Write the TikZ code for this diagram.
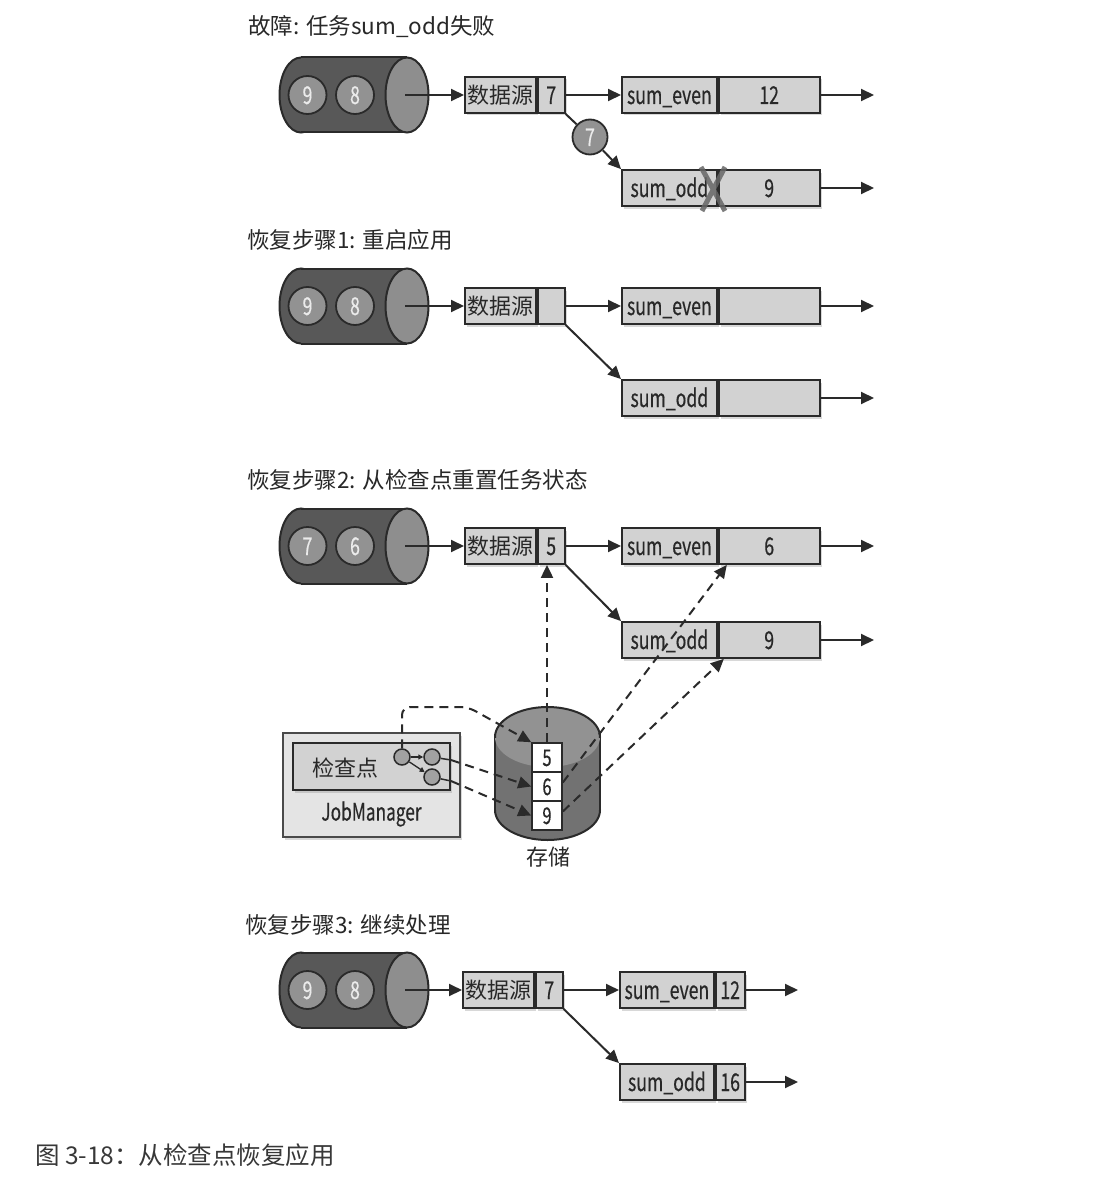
\documentclass[tikz,border=0pt]{standalone}
\usepackage{fontspec}
\setmainfont{Noto Sans CJK SC}
\newfontfamily\cond[FakeStretch=0.72,FakeBold=0.4]{Noto Sans CJK SC}
\usetikzlibrary{arrows.meta,shadows,calc}

\definecolor{ink}{HTML}{2A2A2A}
\definecolor{boxfill}{HTML}{D2D2D2}
\definecolor{cyldark}{HTML}{585858}
\definecolor{cyllight}{HTML}{8E8E8E}
\definecolor{tokfill}{HTML}{929292}
\definecolor{dbbody}{HTML}{727272}
\definecolor{dbtop}{HTML}{929292}
\definecolor{jmfill}{HTML}{E4E4E4}
\definecolor{txt}{HTML}{282828}

\tikzset{
  every node/.style={text=txt},
  shade box/.style={drop shadow={shadow xshift=2pt, shadow yshift=-2.5pt, opacity=0.3}},
  part/.style={draw=ink, fill=boxfill, line width=1.8pt, minimum height=36pt,
    inner sep=0pt, anchor=west, shade box},
  cjk/.style={font=\fontsize{22}{22}\selectfont},
  lat/.style={font=\cond\fontsize{24.5}{24.5}\selectfont, text height=18pt, text depth=0pt},
  title/.style={anchor=west, inner sep=0pt, font=\fontsize{22.5}{23}\selectfont},
  token/.style={circle, draw=ink, fill=tokfill, line width=1.8pt, minimum size=38pt,
    inner sep=0pt, text=white!92!black, lat},
  flow/.style={draw=ink, line width=2pt, -{Triangle[length=13pt,width=12pt]}},
  dflow/.style={draw=ink, line width=2pt, dash pattern=on 9pt off 6pt,
    -{Triangle[length=13pt,width=12pt]}},
  tiny/.style={draw=ink, line width=1.3pt, -{Triangle[length=5pt,width=5pt]}},
  slot/.style={draw=ink, fill=white, line width=1.6pt, minimum width=30pt,
    minimum height=29pt, inner sep=0pt, font=\cond\fontsize{23}{23}\selectfont,
    text height=17pt, text depth=0pt},
  dot/.style={circle, draw=ink, fill=tokfill!85!white, line width=1.5pt,
    minimum size=16pt, inner sep=0pt},
}

% horizontal queue cylinder: name, centre x, centre y, two queued records
\newcommand\drawcyl[5]{%
  \path[draw=ink, fill=cyldark, line width=2pt] (#2-53,#3) ellipse [x radius=21.5, y radius=37.5];
  \fill[cyldark] (#2-53,#3-37.5) rectangle (#2+53,#3+37.5);
  \draw[ink, line width=2pt] (#2-53,#3-37.5) -- (#2+53,#3-37.5) (#2-53,#3+37.5) -- (#2+53,#3+37.5);
  \path[draw=ink, fill=cyllight, line width=2pt] (#2+53,#3) ellipse [x radius=21.5, y radius=37.5];
  \node[token] (#1a) at (#2-46.5,#3) {#4};
  \node[token] (#1b) at (#2+1,#3) {#5};
  \coordinate (#1) at (#2+51,#3);
}

\begin{document}
\begin{tikzpicture}[x=1pt, y=-1pt]
\fill[white] (0,0) rectangle (1110,1188);
\useasboundingbox (0,0) rectangle (1110,1188);

% ---------- failure ----------
\node[title] (t1) at (248,27) {故障: 任务sum\_odd失败};
\drawcyl{q1}{354}{95}{9}{8}
\node[part, minimum width=71pt, cjk] (s1) at (464,95) {数据源};
\node[part, minimum width=27pt, lat] (s1v) at (s1.east) {7};
\node[part, minimum width=95pt, lat] (e1) at (621,95) {sum\_even};
\node[part, minimum width=101pt, lat] (e1v) at (e1.east) {12};
\node[part, minimum width=95pt, lat] (o1) at (621,188) {sum\_odd};
\node[part, minimum width=101pt, lat] (o1v) at (o1.east) {9};
\coordinate (e1out) at (874,95);
\coordinate (o1out) at (874,188);
\node[token, minimum size=35pt] (m1) at (590,137) {7};
\draw[flow] (q1) -- (s1.west);
\draw[flow] (s1v.east) -- (e1.west);
\draw[flow] (e1v.east) -- (e1out);
\draw[flow] (o1v.east) -- (o1out);
\draw[ink, line width=2pt] (s1v.south east) -- (m1);
\draw[flow] (m1) -- (o1.north west);
\draw[gray!80!black, line width=5pt, opacity=0.85] (701,167) -- (725,211) (725,167) -- (702,211);

% ---------- step 1 ----------
\node[title] (t2) at (247,240) {恢复步骤1: 重启应用};
\drawcyl{q2}{354}{306}{9}{8}
\node[part, minimum width=71pt, cjk] (s2) at (464,306) {数据源};
\node[part, minimum width=27pt, lat] (s2v) at (s2.east) {};
\node[part, minimum width=95pt, lat] (e2) at (621,306) {sum\_even};
\node[part, minimum width=101pt, lat] (e2v) at (e2.east) {};
\node[part, minimum width=95pt, lat] (o2) at (621,398) {sum\_odd};
\node[part, minimum width=101pt, lat] (o2v) at (o2.east) {};
\coordinate (e2out) at (874,306);
\coordinate (o2out) at (874,398);
\draw[flow] (q2) -- (s2.west);
\draw[flow] (s2v.east) -- (e2.west);
\draw[flow] (e2v.east) -- (e2out);
\draw[flow] (o2v.east) -- (o2out);
\draw[flow] (s2v.south east) -- (o2.north west);

% ---------- step 2 ----------
\node[title] (t3) at (247,480) {恢复步骤2: 从检查点重置任务状态};
\drawcyl{q3}{354}{546}{7}{6}
\node[part, minimum width=71pt, cjk] (s3) at (464,546) {数据源};
\node[part, minimum width=27pt, lat] (s3v) at (s3.east) {5};
\node[part, minimum width=95pt, lat] (e3) at (621,546) {sum\_even};
\node[part, minimum width=101pt, lat] (e3v) at (e3.east) {6};
\node[part, minimum width=95pt, lat] (o3) at (621,640) {sum\_odd};
\node[part, minimum width=101pt, lat] (o3v) at (o3.east) {9};
\coordinate (e3out) at (874,546);
\coordinate (o3out) at (874,640);
\draw[flow] (q3) -- (s3.west);
\draw[flow] (s3v.east) -- (e3.west);
\draw[flow] (e3v.east) -- (e3out);
\draw[flow] (o3v.east) -- (o3out);
\draw[flow] (s3v.south east) -- (o3.north west);

% state storage
\path[draw=ink, fill=dbbody, line width=2pt] (547.5,810) ellipse [x radius=52.5, y radius=30];
\fill[dbbody] (495,737) rectangle (600,810);
\draw[ink, line width=2pt] (495,737) -- (495,810) (600,737) -- (600,810);
\fill[dbtop] (547.5,737) ellipse [x radius=52.5, y radius=30];
\begin{scope}
  \clip (485,700) rectangle (610,737);
  \draw[ink, line width=2pt] (547.5,737) ellipse [x radius=52.5, y radius=30];
\end{scope}
\node[slot] (b5) at (547,757.5) {5};
\node[slot] (b6) at (547,786.5) {6};
\node[slot] (b9) at (547,815.5) {9};
\node[cjk] (db) at (548,857) {存储};

% JobManager with its checkpoint
\node[draw=ink!85, fill=jmfill, line width=1.8pt, minimum width=177pt,
  minimum height=104pt, inner sep=0pt, shade box] (jm) at (371.5,785) {};
\node[font=\cond\fontsize{24}{24}\selectfont] (jmlabel) at (371.5,814) {JobManager};
\node[draw=ink, fill=boxfill, line width=1.8pt, minimum width=157pt,
  minimum height=47pt, inner sep=0pt, shade box] (cp) at (371.5,766.5) {};
\node[cjk] (cplabel) at (345,768) {检查点};
\node[dot] (c1) at (402,757) {};
\node[dot] (c2) at (432,757) {};
\node[dot] (c3) at (432,777) {};
\draw[tiny] (c1) -- (c2);
\draw[tiny] (c1) -- (c3);
\coordinate (t2e) at (451,760);
\coordinate (t3e) at (451,781);
\draw[ink, line width=1.5pt] (c2) -- (t2e) (c3) -- (t3e);
\coordinate (bend) at (468,707);

\draw[dflow, rounded corners=8pt] (c1.north) |- (bend) -- (b5.north west);
\draw[dflow] (t2e) -- (b6.west);
\draw[dflow] (t3e) -- (b9.west);
\draw[dflow] (b5.north) -- (b5.north |- s3v.south);
\draw[dflow] ($(b6.east)+(0,-4)$) -- ($(e3v.south west)+(9,0)$);
\draw[dflow] ($(b9.east)+(0,-4)$) -- ($(o3v.south west)+(6,0)$);

% ---------- step 3 ----------
\node[title] (t4) at (245,925) {恢复步骤3: 继续处理};
\drawcyl{q4}{354}{990}{9}{8}
\node[part, minimum width=71pt, cjk] (s4) at (462,990) {数据源};
\node[part, minimum width=27pt, lat] (s4v) at (s4.east) {7};
\node[part, minimum width=94pt, lat] (e4) at (619,990) {sum\_even};
\node[part, minimum width=29pt, lat] (e4v) at (e4.east) {12};
\node[part, minimum width=94pt, lat] (o4) at (619,1082) {sum\_odd};
\node[part, minimum width=29pt, lat] (o4v) at (o4.east) {16};
\coordinate (e4out) at (798,990);
\coordinate (o4out) at (798,1082);
\draw[flow] (q4) -- (s4.west);
\draw[flow] (s4v.east) -- (e4.west);
\draw[flow] (e4v.east) -- (e4out);
\draw[flow] (o4v.east) -- (o4out);
\draw[flow] (s4v.south east) -- (o4.north west);

% caption
\node[anchor=west, inner sep=0pt, text=black!78, font=\fontsize{24.5}{25}\selectfont] (cap) at (35,1155) {图 3-18：从检查点恢复应用};
\end{tikzpicture}
\end{document}
